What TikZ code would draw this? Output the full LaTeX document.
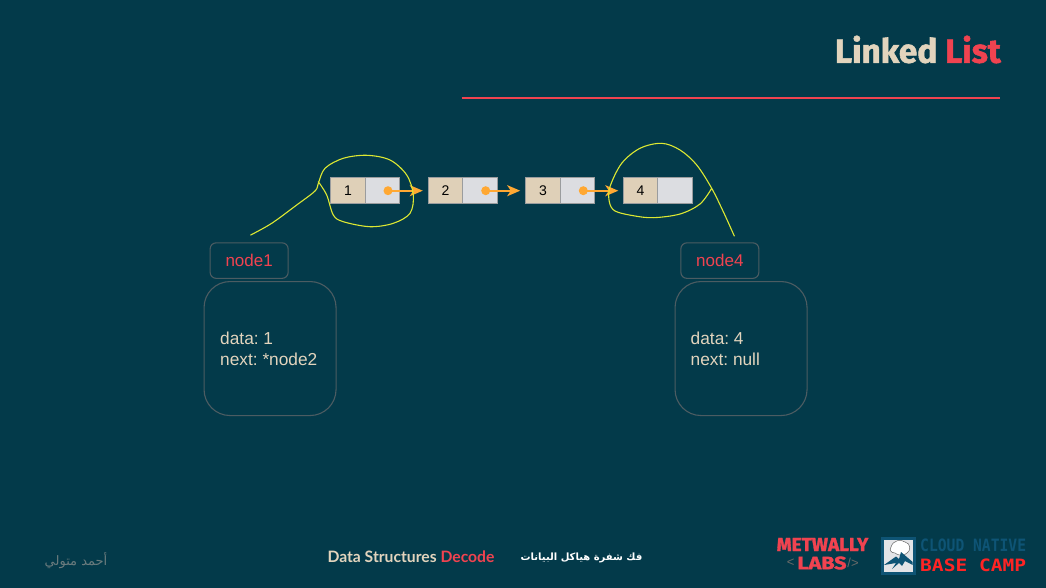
\documentclass[tikz,border=0pt]{standalone}
\usepackage{fontspec}
\usetikzlibrary{arrows.meta,backgrounds}
\setmainfont{Liberation Sans}
\TeXXeTstate=1
\frenchspacing
\newfontfamily\arabicfont[Script=Arabic]{DejaVu Sans}
\newfontfamily\firafont[BoldFeatures={FakeBold=1.6}]{Fira Sans}
\newfontfamily\latofont{Lato}
\newfontfamily\monofont{DejaVu Sans Mono}
\definecolor{bgc}{HTML}{033A4A}
\definecolor{redc}{HTML}{F04350}
\definecolor{creamc}{HTML}{E2D4BD}
\definecolor{cellc}{HTML}{DFD0B8}
\definecolor{nextc}{HTML}{DCDDE1}
\definecolor{cellb}{HTML}{9A9C9E}
\definecolor{boxb}{HTML}{4C5C62}
\definecolor{yellowc}{HTML}{DDE832}
\definecolor{orangec}{HTML}{FFA833}
\definecolor{campblue}{HTML}{0E5475}
\definecolor{campred}{HTML}{FF2424}
\definecolor{sigc}{HTML}{6C7C7E}
\definecolor{brk}{HTML}{6A6A68}
\tikzset{
 cell/.style={draw=cellb,line width=1.1pt,minimum width=34.3pt,minimum height=26.3pt,inner sep=0pt,anchor=north west,font=\fontsize{14}{16}\selectfont,text=black},
 datacell/.style={cell,fill=cellc},
 nextcell/.style={cell,fill=nextc},
 dotnode/.style={circle,fill=orangec,minimum size=9pt,inner sep=0pt},
 link/.style={draw=orangec,line width=1.8pt,-{Stealth[length=13pt,width=11pt,inset=3.5pt]}},
 scribble/.style={draw=yellowc,line width=1.1pt,line cap=round,line join=round},
 tagbox/.style={draw=boxb,line width=1.1pt,rounded corners=6pt,minimum width=78pt,minimum height=35.5pt,inner sep=0pt,anchor=north west,text=redc,font=\fontsize{17}{19}\selectfont},
 bigbox/.style={draw=boxb,line width=1.1pt,rounded corners=26pt,minimum width=132pt,minimum height=134pt,inner sep=0pt,anchor=north west},
 info/.style={anchor=west,align=left,text=creamc,inner sep=0pt,font=\fontsize{17.3}{21}\selectfont},
}
\begin{document}
\begin{tikzpicture}[x=1pt,y=-1pt]
\useasboundingbox (0,0) rectangle (1046,588);
\fill[bgc] (0,0) rectangle (1046,588);
% title
\node[anchor=east,inner sep=0pt,font=\firafont\bfseries\fontsize{33.4}{37}\selectfont] (title) at (1001,49.5) {\textcolor{creamc}{Linked} \textcolor{redc}{List}};
\draw[redc,line width=2pt] (461.5,97.7) -- (1000,97.7);
% cells
\node[datacell] (d1) at (330.2,176.7) {1};
\node[nextcell] (n1) at (364.7,176.7) {};
\node[datacell] (d2) at (427.8,176.7) {2};
\node[nextcell] (n2) at (462.3,176.7) {};
\node[datacell] (d3) at (525.2,176.7) {3};
\node[nextcell] (n3) at (559.7,176.7) {};
\node[datacell] (d4) at (622.8,176.7) {4};
\node[nextcell] (n4) at (657.3,176.7) {};
% links
\node[dotnode] (p1) at (388,190.7) {};
\node[dotnode] (p2) at (485.7,190.7) {};
\node[dotnode] (p3) at (583.3,190.7) {};
\draw[link,shorten >=5pt] (p1.center) -- (d2.west |- p1);
\draw[link,shorten >=5pt] (p2.center) -- (d3.west |- p2);
\draw[link,shorten >=4.5pt] (p3.center) -- (d4.west |- p3);
% scribbles
\draw[scribble] plot[smooth,tension=0.55] coordinates {(250.7,235) (271.7,223.3) (296.7,205) (315,191) (318.3,183.3) (325,168.3) (343.3,158.3) (366.7,155.3) (390,160) (406.7,175) (413.3,195) (410,213.3) (393.3,223.3) (370,226.7) (343.3,221.7) (333.3,215) (326.7,195) (318.3,181.7)};
\draw[scribble] plot[smooth,tension=0.55] coordinates {(734.3,236) (723.3,211.7) (711.7,188.3) (696.7,165) (680,150) (661.7,143.3) (640,148.3) (621.7,163.3) (610,186.7) (609.3,201.7) (615,211) (633.3,215.7) (653.3,217.7) (680,214) (700,204) (711.7,188.3)};
% tags
\node[tagbox] (tag1) at (209.6,242.3) {node1};
\node[tagbox] (tag4) at (680.3,242.3) {node4};
\node[bigbox] (box1) at (203.5,281) {};
\node[bigbox] (box4) at (674.5,281) {};
\node[info] (info1) at (220,348.5) {data: 1\\next: *node2};
\node[info] (info4) at (690.5,348.5) {data: 4\\next: null};
% footer
\node[anchor=center,inner sep=0pt,font=\latofont\bfseries\fontsize{15.7}{18}\selectfont] (foot) at (411,557) {\textcolor{creamc}{Data Structures} \textcolor{redc}{Decode}};
\node[anchor=center,inner sep=0pt,font=\arabicfont\bfseries\fontsize{10}{12}\selectfont] (footar) at (581.5,558) {\beginR\textcolor{redc}{فك شفرة} \textcolor{creamc}{هياكل البيانات}\endR};
\node[anchor=center,inner sep=0pt,text=sigc,font=\arabicfont\fontsize{13}{15}\selectfont] (sig) at (76,561) {\beginR أحمد متولي\endR};
% metwally logo
\node[anchor=center,inner sep=0pt,text=redc,font=\firafont\bfseries\fontsize{19}{21}\selectfont] (met) at (822.5,544.5) {METWALLY};
\node[anchor=center,inner sep=0pt,text=redc,font=\firafont\bfseries\fontsize{18}{20}\selectfont] (labs) at (822,563) {\scalebox{1.2}[1]{LABS}};
\node[anchor=center,inner sep=0pt,text=brk,font=\fontsize{13}{14}\selectfont] (lt) at (790.7,562.5) {<};
\node[anchor=center,inner sep=0pt,text=brk,font=\fontsize{13}{14}\selectfont] (gt) at (853,562.5) {/>};
% camp logo
\fill[campblue] (881,536.7) rectangle (915.7,575);
\fill[nextc!80!white] (884,539.7) rectangle (912.7,572);
\fill[white,draw=black!60,line width=.5pt] (891,547) .. controls (893,540) and (901,539) .. (905,542) .. controls (911,543) and (911,551) .. (907,553) .. controls (904,557) and (897,555) .. (895,553) .. controls (891,553) and (889,550) .. (891,547) -- cycle;
\fill[campblue] (884,565) -- (896,556.5) -- (899,559) -- (901,552) -- (912.7,562) -- (912.7,565) -- (905,561) -- (902,566) -- (899,563) -- (892,569) -- (896,563) -- cycle;
\node[anchor=west,inner sep=0pt,text=campblue,font=\monofont\bfseries\fontsize{17}{19}\selectfont] (cn) at (920,545.5) {\scalebox{.862}[1]{CLOUD NATIVE}};
\node[anchor=west,inner sep=0pt,text=campred,font=\monofont\bfseries\fontsize{17}{19}\selectfont] (bc) at (920,565.5) {\scalebox{1.15}[1]{BASE CAMP}};
\end{tikzpicture}
\end{document}
